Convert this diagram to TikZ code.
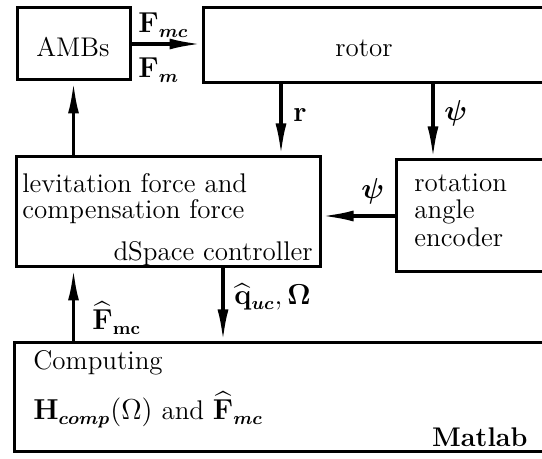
\documentclass[tikz,border=0pt]{standalone}
\usepackage{amsmath}
\usetikzlibrary{arrows.meta,fit}
\begin{document}
\begin{tikzpicture}[x=0.5pt,y=-0.5pt,
 box/.style={draw,line width=1.5pt,inner sep=0pt},
 arr/.style={line width=1.7pt,-{Latex[length=16pt,width=5.5pt]}},
 txt/.style={font=\fontsize{13.5}{16}\selectfont,inner sep=0pt},
]
\useasboundingbox (0,0) rectangle (542,459);
\clip (0,0) rectangle (542,459);
% boxes
\node[box,fit={(17,8)(130,80)}] (amb) {};
\node[box,fit={(203,8)(570,83)}] (rotor) {};
\node[box,fit={(16,157)(320,267)}] (dsp) {};
\node[box,fit={(396,160)(570,272)}] (enc) {};
\node[box,fit={(14,343)(570,452)}] (mat) {};
% texts in boxes
\node[txt,anchor=base] (tamb) at (73,57) {AMBs};
\node[txt,anchor=base] (trotor) at (364,57) {rotor};
\node[txt,anchor=base west] (tlev1) at (22,193) {levitation force and};
\node[txt,anchor=base west] (tlev2) at (22,219) {compensation force};
\node[txt,anchor=base east] (tdsp) at (313,261) {dSpace controller};
\node[txt,anchor=base west] (tenc1) at (414,192) {rotation};
\node[txt,anchor=base west] (tenc2) at (414,219) {angle};
\node[txt,anchor=base west] (tenc3) at (414,247) {encoder};
\node[txt,anchor=base west] (tcmp1) at (33,370) {Computing};
\node[txt,anchor=base west] (tcmp2) at (33,420) {$\mathbf{H}_{\boldsymbol{comp}}(\Omega)$ and $\widehat{\mathbf{F}}_{\boldsymbol{mc}}$};
\node[txt,anchor=base east] (tmat) at (528,447) {\textbf{Matlab}};
% connector coordinates
\coordinate (xr) at (281,0);
\coordinate (xpsi) at (433,0);
\coordinate (xq) at (223,0);
% connectors
\draw[arr] (amb.east) -- (amb.east -| rotor.west);
\draw[arr] (amb.south |- dsp.north) -- (amb.south);
\draw[arr] (xr |- rotor.south) -- (xr |- dsp.north);
\draw[arr] (xpsi |- rotor.south) -- (xpsi |- enc.north);
\draw[arr] (enc.west) -- (enc.west -| dsp.east);
\draw[arr] (amb.south |- mat.north) -- (amb.south |- dsp.south);
\draw[arr] (xq |- dsp.south) -- (xq |- mat.north);
% connector labels
\node[txt,anchor=base west] (lfmc) at (138,33) {$\mathbf{F}_{\boldsymbol{mc}}$};
\node[txt,anchor=base west] (lfm) at (138,78) {$\mathbf{F}_{\boldsymbol{m}}$};
\node[txt,anchor=base west] (lr) at (293,122) {$\mathbf{r}$};
\node[txt,anchor=base west] (lpsi1) at (444,121) {$\boldsymbol{\psi}$};
\node[txt,anchor=base west] (lpsi2) at (361,199) {$\boldsymbol{\psi}$};
\node[txt,anchor=base west] (lfh) at (92,330) {$\widehat{\mathbf{F}}_{\mathbf{mc}}$};
\node[txt,anchor=base west] (lq) at (234,305) {$\widehat{\mathbf{q}}_{\boldsymbol{uc}},\boldsymbol{\Omega}$};
\end{tikzpicture}
\end{document}
